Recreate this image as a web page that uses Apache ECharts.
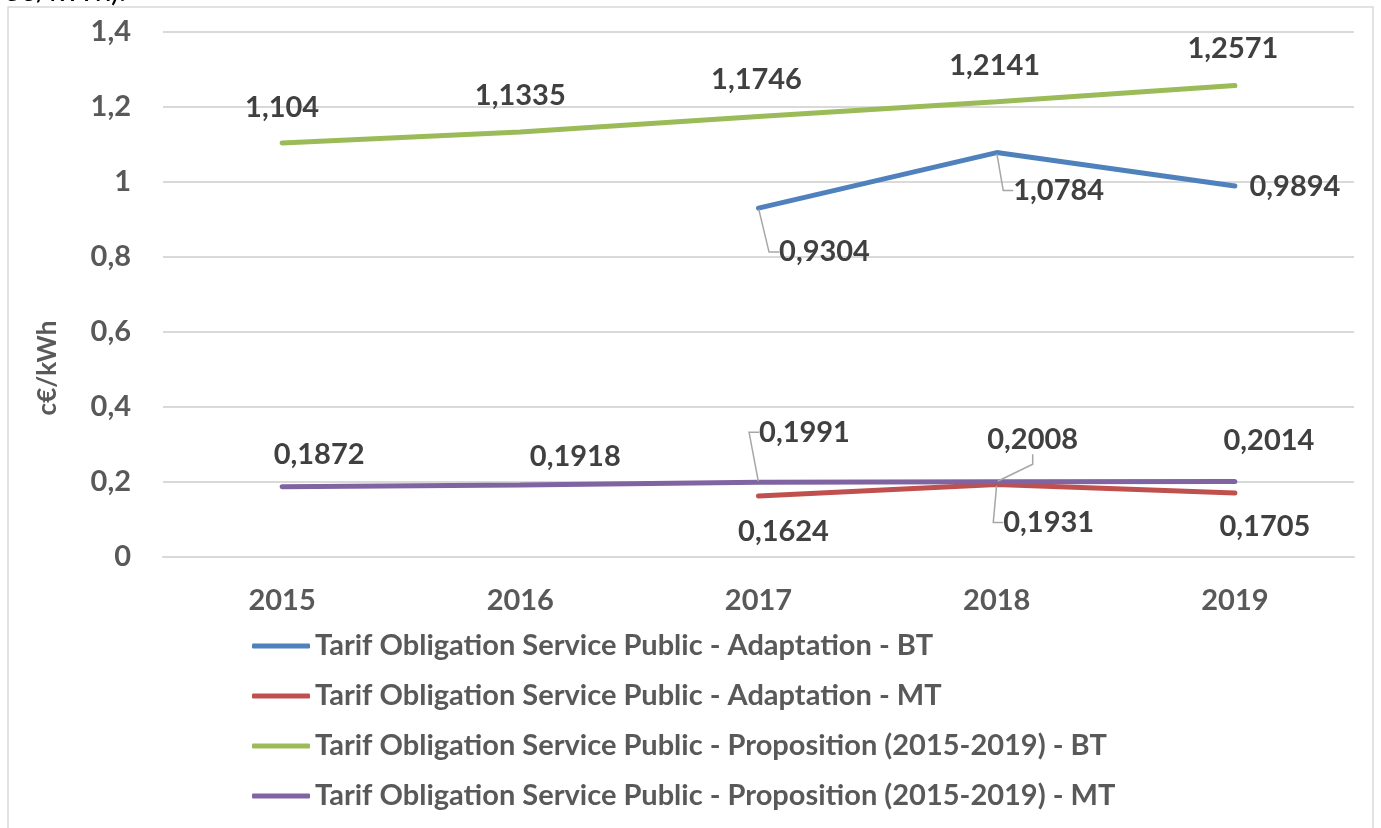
<!DOCTYPE html>
<html>
<head>
<meta charset="utf-8">
<script src="https://cdn.jsdelivr.net/npm/echarts@6/dist/echarts.min.js"></script>
<style>
  html, body { margin: 0; padding: 0; background: #fff; }
  #chart { width: 1381px; height: 828px; }
</style>
</head>
<body>
<div id="chart"></div>
<script>
// years on the x axis
const years = ['2015', '2016', '2017', '2018', '2019']

// values (c€/kWh), null where the series has no point
const adaptBT = [null, null, 0.9304, 1.0784, 0.9894]
const adaptMT = [null, null, 0.1624, 0.1931, 0.1705]
const propBT = [1.104, 1.1335, 1.1746, 1.2141, 1.2571]
const propMT = [0.1872, 0.1918, 0.1991, 0.2008, 0.2014]

const seriesNames = [
  'Tarif Obligation Service Public - Adaptation - BT',
  'Tarif Obligation Service Public - Adaptation - MT',
  'Tarif Obligation Service Public - Proposition (2015-2019) - BT',
  'Tarif Obligation Service Public - Proposition (2015-2019) - MT'
]
const colors = ['#4F81BD', '#C0504D', '#9BBB59', '#8064A2']

// where each data label sits relative to its point (label centre)
const labelShift = [
  [null, null, [66, 44], [62, 38], [60, 1]],
  [null, null, [25, 36], [52, 38], [30, 34]],
  [[0, -35], [0, -36], [-2, -37], [-2, -36], [-2, -37]],
  [[37, -32], [55, -28], [46, -50], [36, -42], [34, -41]]
]
// which labels get a leader line
const leaders = [
  [false, false, true, true, false],
  [false, false, false, true, false],
  [false, false, false, false, false],
  [false, false, true, true, false]
]

const FONT = 'Lato'
const SIZE = 29
const comma = v => String(v).replace('.', ',')

const chart = echarts.init(document.getElementById('chart'))

const makeSeries = (values, idx) => ({
  name: seriesNames[idx],
  type: 'line',
  data: values.map((v, i) => ({
    value: v,
    labelLine: { show: leaders[idx][i] }
  })),
  symbol: 'circle',
  symbolSize: 2,
  connectNulls: false,
  lineStyle: { width: 5, color: colors[idx], cap: 'round' },
  itemStyle: { color: colors[idx] },
  label: {
    show: true,
    position: 'inside',
    formatter: p => comma(p.value),
    fontFamily: FONT,
    fontWeight: 'bold',
    fontSize: SIZE,
    color: '#404040'
  },
  labelLine: {
    lineStyle: { color: '#A6A6A6', width: 1.5 },
    length2: 10
  },
  labelLayout: p => {
    const s = labelShift[idx][p.dataIndex]
    return s ? { dx: s[0], dy: s[1] } : {}
  }
})

chart.setOption({
  animation: false,
  backgroundColor: '#fff',
  color: colors,
  graphic: [
    {
      type: 'rect',
      shape: { x: 8, y: 7, width: 1365, height: 830 },
      style: { fill: 'none', stroke: '#D9D9D9', lineWidth: 1.5 },
      silent: true
    },
    {
      type: 'text',
      left: 4,
      top: -24,
      style: { text: 'c€/kWh).', font: '30px Lato', fill: '#000' }
    },
    {
      type: 'text',
      x: 48,
      y: 368,
      rotation: Math.PI / 2,
      style: {
        text: 'c€/kWh',
        font: 'bold 26px Lato',
        fill: '#595959',
        align: 'center',
        verticalAlign: 'middle'
      }
    }
  ],
  grid: { left: 163, right: 27, top: 32, bottom: 271, containLabel: false },
  legend: {
    orient: 'vertical',
    left: 247,
    top: 625,
    itemWidth: 58,
    itemHeight: 5,
    itemGap: 18,
    icon: 'roundRect',
    data: seriesNames,
    textStyle: {
      fontFamily: FONT,
      fontWeight: 'bold',
      fontSize: SIZE,
      color: '#595959',
      lineHeight: 32
    }
  },
  xAxis: {
    type: 'category',
    data: years,
    boundaryGap: true,
    axisLine: { lineStyle: { color: '#D9D9D9', width: 2 } },
    axisTick: { show: false },
    axisLabel: {
      margin: 29,
      fontFamily: FONT,
      fontWeight: 'bold',
      fontSize: SIZE,
      color: '#595959'
    }
  },
  yAxis: {
    type: 'value',
    min: 0,
    max: 1.4,
    interval: 0.2,
    axisLine: { show: false },
    axisTick: { show: false },
    splitLine: { lineStyle: { color: '#D9D9D9', width: 2 } },
    axisLabel: {
      margin: 32,
      formatter: v => comma(+v.toFixed(1)),
      fontFamily: FONT,
      fontWeight: 'bold',
      fontSize: SIZE,
      color: '#595959'
    }
  },
  series: [
    makeSeries(adaptBT, 0),
    makeSeries(adaptMT, 1),
    makeSeries(propBT, 2),
    makeSeries(propMT, 3)
  ]
})
</script>
</body>
</html>
